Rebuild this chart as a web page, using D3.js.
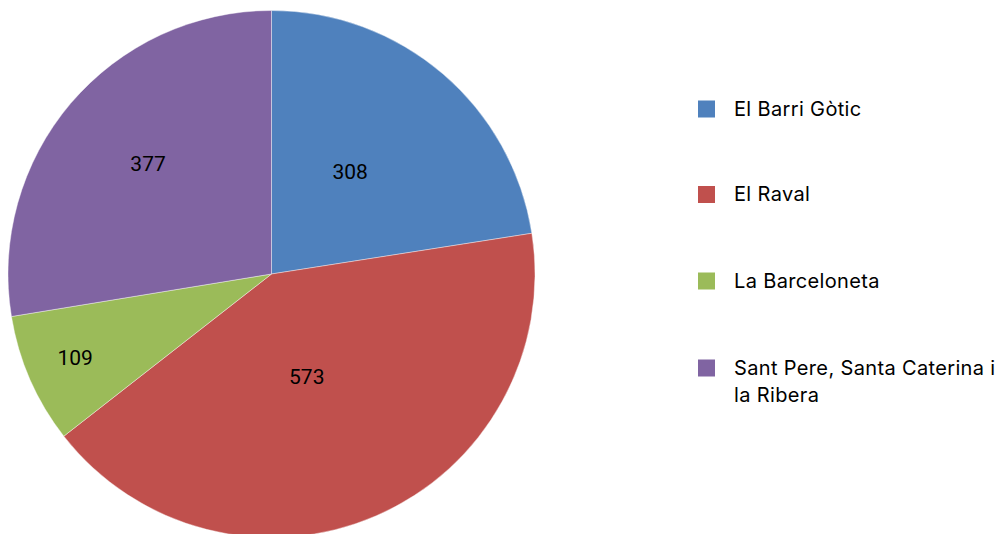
<!DOCTYPE html>
<html><head><meta charset="utf-8">
<script src="https://cdn.jsdelivr.net/npm/d3@7"></script>
<style>html,body{margin:0;padding:0;background:#fff;}svg{display:block;}</style>
</head><body>
<svg id="chart" width="999" height="534"></svg>
<script>
const categories = ["El Barri Gòtic", "El Raval", "La Barceloneta", "Sant Pere, Santa Caterina i la Ribera"];
const values = [308, 573, 109, 377];
const colors = ["#4F81BD", "#C0504D", "#9BBB59", "#8064A2"];
const legendLines = [["El Barri Gòtic"], ["El Raval"], ["La Barceloneta"], ["Sant Pere, Santa Caterina i", "la Ribera"]];
const labelRadiusFactor = [0.49, 0.41, 0.81, 0.63];
const labelAngleShift = [-3, 4.4, 0.6, 1.6];

const svg = d3.select("#chart");
const cx = 271.5, cy = 274, r = 263.5;
const font = "Roboto, 'Noto Sans', sans-serif";
const legendFont = "Inter, 'Noto Sans', sans-serif";

const pie = d3.pie().sort(null).value(d => d)(values);
const arc = d3.arc().innerRadius(0).outerRadius(r);
const g = svg.append("g").attr("transform", `translate(${cx},${cy})`);
g.selectAll("path").data(pie).join("path")
  .attr("d", arc)
  .attr("fill", (d, i) => colors[i])
  .attr("stroke", "rgba(255,255,255,0.5)")
  .attr("stroke-width", 0.8);

g.selectAll("text.lbl").data(pie).join("text")
  .attr("class", "lbl")
  .attr("transform", (d, i) => {
    const a = (d.startAngle + d.endAngle) / 2 + labelAngleShift[i] * Math.PI / 180;
    const rr = r * labelRadiusFactor[i];
    return `translate(${Math.sin(a) * rr},${-Math.cos(a) * rr})`;
  })
  .attr("text-anchor", "middle")
  .attr("dy", "0.36em")
  .attr("font-family", font)
  .attr("font-size", 21)
  .attr("fill", "#000")
  .text(d => d.data);

const legend = svg.append("g").attr("transform", "translate(698,0)");
const rowY = [109, 194.5, 281, 368];
categories.forEach((c, i) => {
  const row = legend.append("g").attr("transform", `translate(0,${rowY[i]})`);
  row.append("rect").attr("x", 0).attr("y", -8.5).attr("width", 17).attr("height", 17).attr("fill", colors[i]);
  const t = row.append("text").attr("x", 36).attr("y", 6.5)
    .attr("font-family", legendFont).attr("font-size", 20)
    .attr("letter-spacing", 0.35).attr("fill", "#000");
  legendLines[i].forEach((ln, j) => {
    t.append("tspan").attr("x", 36).attr("dy", j === 0 ? 0 : 27.5).text(ln);
  });
});
</script>
</body></html>
